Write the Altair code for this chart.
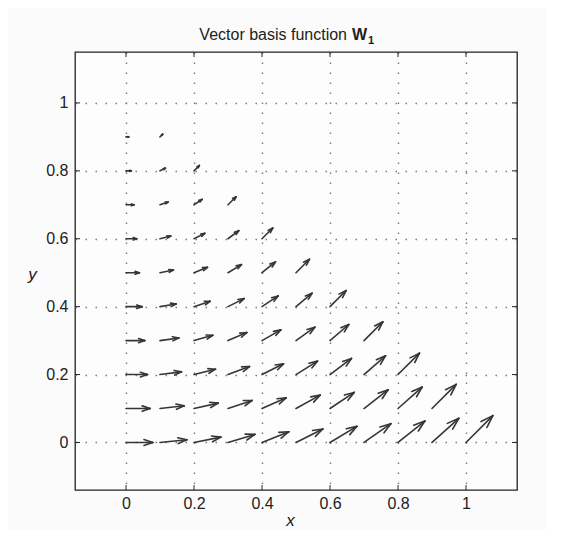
import altair as alt
import pandas as pd

# Grid points and vector components, row by row
xs = [0.0, 0.1, 0.2, 0.3, 0.4, 0.5, 0.6, 0.7, 0.8, 0.9, 1.0,
      0.0, 0.1, 0.2, 0.3, 0.4, 0.5, 0.6, 0.7, 0.8, 0.9,
      0.0, 0.1, 0.2, 0.3, 0.4, 0.5, 0.6, 0.7, 0.8,
      0.0, 0.1, 0.2, 0.3, 0.4, 0.5, 0.6, 0.7,
      0.0, 0.1, 0.2, 0.3, 0.4, 0.5, 0.6,
      0.0, 0.1, 0.2, 0.3, 0.4, 0.5,
      0.0, 0.1, 0.2, 0.3, 0.4,
      0.0, 0.1, 0.2, 0.3,
      0.0, 0.1, 0.2,
      0.0, 0.1]
ys = [0.0] * 11 + [0.1] * 10 + [0.2] * 9 + [0.3] * 8 + [0.4] * 7 + \
     [0.5] * 6 + [0.6] * 5 + [0.7] * 4 + [0.8] * 3 + [0.9] * 2
us = [1.0] * 11 + [0.9] * 10 + [0.8] * 9 + [0.7] * 8 + [0.6] * 7 + \
     [0.5] * 6 + [0.4] * 5 + [0.3] * 4 + [0.2] * 3 + [0.1] * 2
vs = [0.0, 0.1, 0.2, 0.3, 0.4, 0.5, 0.6, 0.7, 0.8, 0.9, 1.0,
      0.0, 0.1, 0.2, 0.3, 0.4, 0.5, 0.6, 0.7, 0.8, 0.9,
      0.0, 0.1, 0.2, 0.3, 0.4, 0.5, 0.6, 0.7, 0.8,
      0.0, 0.1, 0.2, 0.3, 0.4, 0.5, 0.6, 0.7,
      0.0, 0.1, 0.2, 0.3, 0.4, 0.5, 0.6,
      0.0, 0.1, 0.2, 0.3, 0.4, 0.5,
      0.0, 0.1, 0.2, 0.3, 0.4,
      0.0, 0.1, 0.2, 0.3,
      0.0, 0.1, 0.2,
      0.0, 0.1]

tick_values = [0, 0.2, 0.4, 0.6, 0.8, 1]

SCALE = 0.079   # quiver length scale
ALPHA = 0.33    # head length relative to arrow
BETA = 0.33     # head width relative to head length

segs = []
for x, y, u, v in zip(xs, ys, us, vs):
    su, sv = u * SCALE, v * SCALE
    x1, y1 = x + su, y + sv
    segs.append(dict(x=x, y=y, x2=x1, y2=y1))
    segs.append(dict(x=x1 - ALPHA * (su + BETA * sv), y=y1 - ALPHA * (sv - BETA * su), x2=x1, y2=y1))
    segs.append(dict(x=x1 - ALPHA * (su - BETA * sv), y=y1 - ALPHA * (sv + BETA * su), x2=x1, y2=y1))
seg_df = pd.DataFrame(segs)
tick_df = pd.DataFrame({"t": tick_values})

W, H = 442, 438
xdom = [-0.15, 1.15]
ydom = [-0.14, 1.15]
FONT = "Liberation Sans"

xscale = alt.Scale(domain=xdom, nice=False, zero=False)
yscale = alt.Scale(domain=ydom, nice=False, zero=False)

arrows = alt.Chart(seg_df).mark_rule(color="#363636", strokeWidth=1.6, strokeCap="round").encode(
    x=alt.X("x:Q", scale=xscale,
            axis=alt.Axis(values=tick_values, format="~g", title="x", grid=True,
                          titleFontStyle="italic", titlePadding=1, titleX=215)),
    y=alt.Y("y:Q", scale=yscale,
            axis=alt.Axis(values=tick_values, format="~g", title="y", grid=True,
                          titleFontStyle="italic", titleAngle=0, titleX=-43, titleY=222,
                          titleAlign="center", titleBaseline="middle")),
    x2="x2:Q",
    y2="y2:Q",
)

tick_style = dict(color="#222", strokeWidth=1)
bt = alt.Chart(tick_df).mark_rule(**tick_style).encode(
    x=alt.X("t:Q", scale=xscale), y=alt.value(H), y2=alt.value(H - 5))
tt = alt.Chart(tick_df).mark_rule(**tick_style).encode(
    x=alt.X("t:Q", scale=xscale), y=alt.value(0), y2=alt.value(5))
lt = alt.Chart(tick_df).mark_rule(**tick_style).encode(
    y=alt.Y("t:Q", scale=yscale), x=alt.value(0), x2=alt.value(5))
rt = alt.Chart(tick_df).mark_rule(**tick_style).encode(
    y=alt.Y("t:Q", scale=yscale), x=alt.value(W), x2=alt.value(W - 5))

title_a = alt.Chart(pd.DataFrame({"s": ["Vector basis function"]})).mark_text(
    align="right", baseline="alphabetic", font=FONT, fontSize=16, color="#222"
).encode(text="s:N", x=alt.value(272), y=alt.value(-12))
title_b = alt.Chart(pd.DataFrame({"s": ["W"]})).mark_text(
    align="left", baseline="alphabetic", font=FONT, fontSize=16, fontWeight="bold", color="#222"
).encode(text="s:N", x=alt.value(277), y=alt.value(-12))
title_c = alt.Chart(pd.DataFrame({"s": ["1"]})).mark_text(
    align="left", baseline="alphabetic", font=FONT, fontSize=11, fontWeight="bold", color="#222"
).encode(text="s:N", x=alt.value(293), y=alt.value(-8))

chart = alt.layer(arrows, bt, tt, lt, rt, title_a, title_b, title_c).properties(
    width=W, height=H,
    autosize=alt.AutoSizeParams(type="none"),
    padding={"left": 67, "top": 44, "right": 30, "bottom": 40},
    background="#fbfbfb",
).configure_view(
    stroke="#222", strokeWidth=1.3, fill="#fdfdfd"
).configure_axis(
    domain=False, ticks=False,
    labelFont=FONT, labelFontSize=16, labelColor="#222",
    titleFont=FONT, titleFontSize=17, titleColor="#222", titleFontWeight="normal",
    gridColor="#7a7a7a", gridWidth=1.4, gridDash=[1.5, 8.5],
).configure_axisX(labelPadding=5).configure_axisY(labelPadding=7)

chart.save("out.html", embed_options={"renderer": "svg", "actions": False})
